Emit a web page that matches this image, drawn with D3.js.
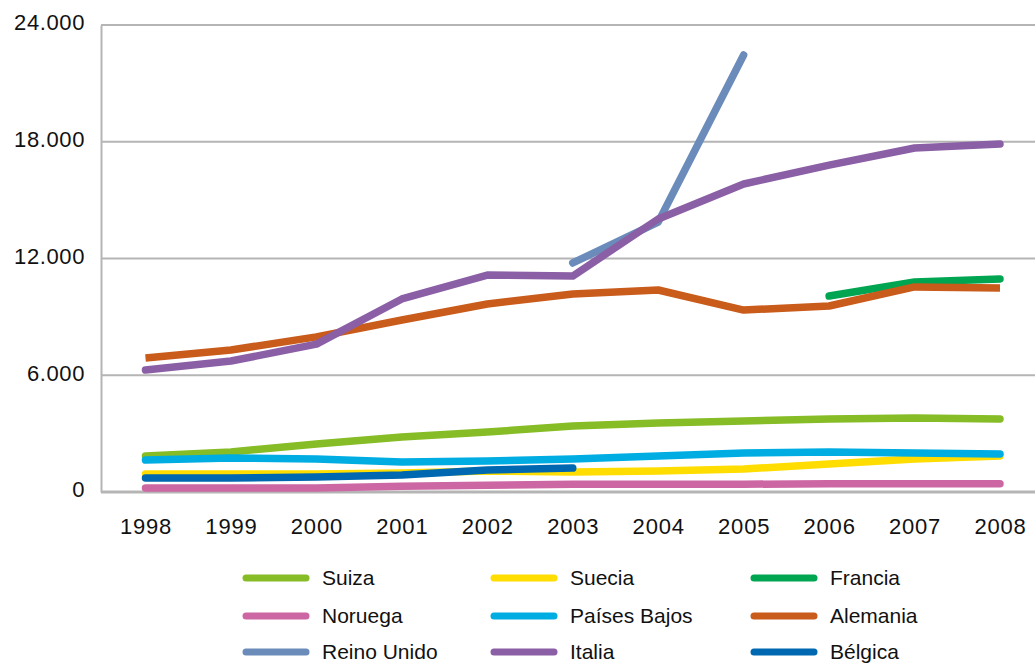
<!DOCTYPE html>
<html>
<head>
<meta charset="utf-8">
<script src="https://cdn.jsdelivr.net/npm/d3@7"></script>
<style>
  body { margin: 0; background: #fff; }
  svg { font-family: "Liberation Sans", Arial, sans-serif; }
</style>
</head>
<body>
<div id="chart-container"></div>
<script>
const years = ["1998", "1999", "2000", "2001", "2002", "2003", "2004", "2005", "2006", "2007", "2008"];
const yTicks = [0, 6000, 12000, 18000, 24000];

const suiza = [1850, 2060, 2470, 2830, 3080, 3390, 3550, 3650, 3750, 3800, 3750];
const suecia = [925, 925, 925, 975, 1080, 1030, 1080, 1180, 1440, 1700, 1850];
const francia = [null, null, null, null, null, null, null, null, 10070, 10790, 10950];
const noruega = [200, 200, 200, 300, 350, 400, 400, 400, 420, 420, 420];
const paisesBajos = [1640, 1750, 1700, 1540, 1590, 1700, 1850, 2000, 2060, 2000, 1950];
const alemania = [6890, 7300, 7970, 8840, 9660, 10180, 10380, 9350, 9560, 10540, 10480];
const reinoUnido = [null, null, null, null, null, 11770, 13870, 22460, null, null, null];
const italia = [6270, 6730, 7600, 9920, 11150, 11100, 14030, 15830, 16800, 17680, 17880];
const belgica = [720, 720, 770, 870, 1130, 1230, null, null, null, null, null];

const series = [
  { name: "Suiza", values: suiza, color: "#86bc25" },
  { name: "Suecia", values: suecia, color: "#ffdd00" },
  { name: "Francia", values: francia, color: "#00a551" },
  { name: "Noruega", values: noruega, color: "#cd67a4" },
  { name: "Países Bajos", values: paisesBajos, color: "#00ade2" },
  { name: "Alemania", values: alemania, color: "#c95b1b", cap: "butt" },
  { name: "Reino Unido", values: reinoUnido, color: "#6b8cba" },
  { name: "Italia", values: italia, color: "#8b5fa5" },
  { name: "Bélgica", values: belgica, color: "#0068b0" }
];

const width = 1035;
const height = 666;
const margin = { top: 25, right: 0, bottom: 174, left: 101 };

const svg = d3
  .select("#chart-container")
  .append("svg")
  .attr("width", width)
  .attr("height", height);

const x = d3.scalePoint().domain(years).range([145.5, 1000]);

const y = d3.scaleLinear([0, 24000], [height - margin.bottom, margin.top]);

const fmt = (v) => (v === 0 ? "0" : d3.format(",")(v).replace(/,/g, "."));

// horizontal grid
svg
  .append("g")
  .selectAll("line")
  .data(yTicks.filter((t) => t > 0))
  .join("line")
  .attr("x1", margin.left)
  .attr("x2", width - margin.right)
  .attr("y1", (d) => y(d))
  .attr("y2", (d) => y(d))
  .attr("stroke", "#b5b5b5")
  .attr("stroke-width", 2);

// y axis
svg
  .append("g")
  .attr("transform", `translate(${margin.left},0)`)
  .call(d3.axisLeft(y).tickValues(yTicks).tickFormat(fmt).tickSize(0).tickPadding(16))
  .call((g) => g.select(".domain").attr("stroke", "#b5b5b5").attr("stroke-width", 2))
  .call((g) =>
    g
      .selectAll("text")
      .attr("font-size", 22)
      .attr("letter-spacing", 0.6)
      .attr("fill", "#111")
      .attr("dy", "0.22em")
  );

// x axis
svg
  .append("g")
  .attr("transform", `translate(0,${y(0)})`)
  .call(d3.axisBottom(x).tickSize(0).tickPadding(26))
  .call((g) =>
    g
      .select(".domain")
      .attr("d", `M${margin.left},0H${width}`)
      .attr("stroke", "#b5b5b5")
      .attr("stroke-width", 3)
  )
  .call((g) =>
    g
      .selectAll("text")
      .attr("font-size", 22)
      .attr("letter-spacing", 0.8)
      .attr("fill", "#111")
  );

const line = d3
  .line()
  .defined((d) => d != null)
  .x((d, i) => x(years[i]))
  .y((d) => y(d));

svg
  .append("g")
  .selectAll("path")
  .data(series)
  .join("path")
  .attr("fill", "none")
  .attr("stroke", (d) => d.color)
  .attr("stroke-width", 7.5)
  .attr("stroke-linecap", (d) => d.cap || "round")
  .attr("stroke-linejoin", "round")
  .attr("d", (d) => line(d.values));

// legend
const legendCols = [243, 491, 751];
const legendRows = [578, 616, 652];

const legend = svg
  .append("g")
  .selectAll("g")
  .data(series)
  .join("g")
  .attr("transform", (d, i) => `translate(${legendCols[i % 3]},${legendRows[Math.floor(i / 3)]})`);

legend
  .append("line")
  .attr("x1", 3)
  .attr("x2", 63)
  .attr("stroke", (d) => d.color)
  .attr("stroke-width", 7)
  .attr("stroke-linecap", "round");

legend
  .append("text")
  .attr("x", 79)
  .attr("dy", "0.35em")
  .attr("font-size", 21)
  .attr("fill", "#111")
  .text((d) => d.name);
</script>
</body>
</html>
